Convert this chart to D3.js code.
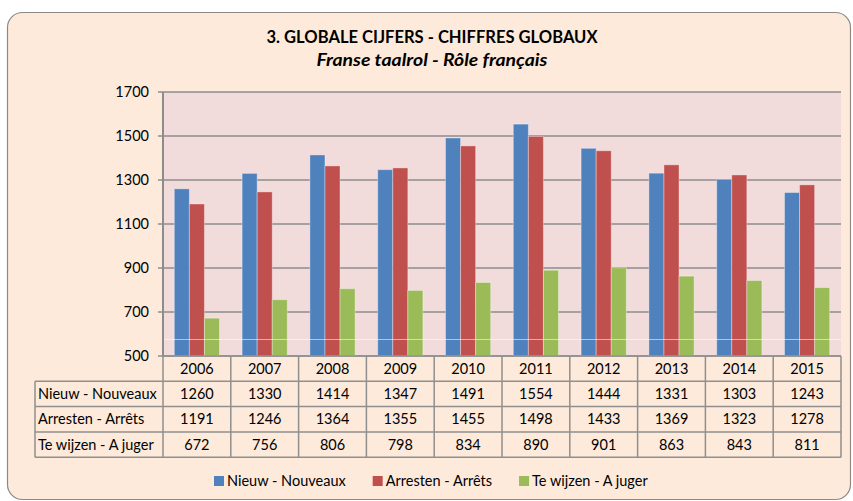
<!DOCTYPE html>
<html lang="nl">
<head>
  <meta charset="UTF-8">
  <title>Globale cijfers</title>
<script src="https://d3js.org/d3.v7.min.js"></script>
<style>
  body { margin: 0; background: #fff; }
  text { font-family: Lato, "Open Sans", sans-serif; fill: #000; }
</style>
</head>
<body>
<div id="chart"></div>
<script>

const years = ['2006', '2007', '2008', '2009', '2010', '2011', '2012', '2013', '2014', '2015'];
const seriesNames = ['Nieuw - Nouveaux', 'Arresten - Arrêts', 'Te wijzen - A juger'];
const nieuw = [1260, 1330, 1414, 1347, 1491, 1554, 1444, 1331, 1303, 1243];
const arresten = [1191, 1246, 1364, 1355, 1455, 1498, 1433, 1369, 1323, 1278];
const teWijzen = [672, 756, 806, 798, 834, 890, 901, 863, 843, 811];
const yTicks = [500, 700, 900, 1100, 1300, 1500, 1700];
const colors = ['#4F81BD', '#C0504D', '#9BBB59'];

const seriesValues = [nieuw, arresten, teWijzen];

const width = 853, height = 501;
const plot = { left: 163, right: 841, top: 92, bottom: 356 };
const rowH = 25.3;
const fs = 14.5;

const svg = d3.select('#chart').append('svg')
  .attr('width', width)
  .attr('height', height);

// chart background
svg.append('rect')
  .attr('x', 7.5).attr('y', 12.5)
  .attr('width', 843).attr('height', 487)
  .attr('rx', 15)
  .attr('fill', '#FDEADA')
  .attr('stroke', '#8a8a8a')
  .attr('stroke-width', 1.2);

// titles
svg.append('text')
  .attr('x', 432).attr('y', 43)
  .attr('text-anchor', 'middle')
  .attr('font-weight', 'bold')
  .attr('font-size', 16.5)
  .attr('textLength', 331)
  .attr('lengthAdjust', 'spacingAndGlyphs')
  .text('3. GLOBALE CIJFERS - CHIFFRES GLOBAUX');

svg.append('text')
  .attr('x', 432).attr('y', 66)
  .attr('text-anchor', 'middle')
  .attr('font-weight', 'bold')
  .attr('font-style', 'italic')
  .attr('font-size', 16.5)
  .attr('textLength', 231)
  .attr('lengthAdjust', 'spacingAndGlyphs')
  .text('Franse taalrol - Rôle français');

const x0 = d3.scaleBand().domain(years).range([plot.left, plot.right]);
const x1 = d3.scaleBand().domain(d3.range(3))
  .range([0, x0.bandwidth()])
  .paddingInner(0).paddingOuter(0.75);
const y = d3.scaleLinear().domain([500, 1700]).range([plot.bottom, plot.top]);

// plot area
svg.append('rect')
  .attr('x', plot.left).attr('y', plot.top)
  .attr('width', plot.right - plot.left)
  .attr('height', plot.bottom - plot.top)
  .attr('fill', '#F2DCDB');

// gridlines
svg.append('g')
  .selectAll('line')
  .data(yTicks)
  .enter().append('line')
  .attr('x1', plot.left - 5).attr('x2', plot.right)
  .attr('y1', d => y(d)).attr('y2', d => y(d))
  .attr('stroke', '#8c8c8c')
  .attr('stroke-width', 1.5);

svg.append('g')
  .selectAll('text')
  .data(yTicks)
  .enter().append('text')
  .attr('x', 149).attr('y', d => y(d) + 5)
  .attr('text-anchor', 'end')
  .attr('font-size', fs)
  .text(d => d);

// bars
const groups = svg.append('g')
  .selectAll('g')
  .data(years)
  .enter().append('g')
  .attr('transform', d => `translate(${x0(d)},0)`);

groups.selectAll('rect')
  .data((d, i) => seriesValues.map((s, k) => ({ k: k, v: s[i] })))
  .enter().append('rect')
  .attr('x', d => x1(d.k))
  .attr('y', d => y(d.v))
  .attr('width', x1.bandwidth())
  .attr('height', d => y(500) - y(d.v))
  .attr('fill', d => colors[d.k])
  .attr('stroke', 'rgba(255,255,255,0.35)')
  .attr('stroke-width', 1);

// faint scan line across the plot
svg.append('line')
  .attr('x1', plot.left).attr('x2', plot.right)
  .attr('y1', 339.5).attr('y2', 339.5)
  .attr('stroke', 'rgba(255,255,255,0.55)')
  .attr('stroke-width', 1);

// y axis line
svg.append('line')
  .attr('x1', plot.left).attr('x2', plot.left)
  .attr('y1', plot.top).attr('y2', plot.bottom)
  .attr('stroke', '#8c8c8c')
  .attr('stroke-width', 2);

// data table
const table = svg.append('g');
const labelLeft = 35;
const rowsY = d3.range(5).map(i => plot.bottom + i * rowH);
const lineColor = '#8f8f8f';

// horizontal lines
table.append('line')
  .attr('x1', plot.left).attr('x2', plot.right)
  .attr('y1', plot.bottom).attr('y2', plot.bottom)
  .attr('stroke', lineColor).attr('stroke-width', 1.5);
rowsY.slice(1).forEach(yy => {
  table.append('line')
    .attr('x1', labelLeft).attr('x2', plot.right)
    .attr('y1', yy).attr('y2', yy)
    .attr('stroke', lineColor).attr('stroke-width', 1.5);
});

// vertical lines
years.forEach(yr => {
  table.append('line')
    .attr('x1', x0(yr)).attr('x2', x0(yr))
    .attr('y1', plot.bottom).attr('y2', rowsY[4])
    .attr('stroke', lineColor).attr('stroke-width', 1.5);
});
table.append('line')
  .attr('x1', plot.right).attr('x2', plot.right)
  .attr('y1', plot.bottom).attr('y2', rowsY[4])
  .attr('stroke', lineColor).attr('stroke-width', 1.5);
table.append('line')
  .attr('x1', labelLeft).attr('x2', labelLeft)
  .attr('y1', rowsY[1]).attr('y2', rowsY[4])
  .attr('stroke', lineColor).attr('stroke-width', 1.5);

// year labels
table.selectAll('.yr')
  .data(years)
  .enter().append('text')
  .attr('class', 'yr')
  .attr('x', d => x0(d) + x0.bandwidth() / 2)
  .attr('y', rowsY[0] + rowH / 2 + 5)
  .attr('text-anchor', 'middle')
  .attr('font-size', fs)
  .text(d => d);

seriesValues.forEach((vals, k) => {
  const cy = rowsY[k + 1] + rowH / 2 + 5;
  table.append('text')
    .attr('x', labelLeft + 3).attr('y', cy)
    .attr('font-size', fs)
    .text(seriesNames[k]);
  table.selectAll('.v' + k)
    .data(vals)
    .enter().append('text')
    .attr('class', 'v' + k)
    .attr('x', (d, i) => x0(years[i]) + x0.bandwidth() / 2)
    .attr('y', cy)
    .attr('text-anchor', 'middle')
    .attr('font-size', fs)
    .text(d => d);
});

// legend
const legend = svg.append('g');
let lx = 214;
seriesNames.forEach((name, k) => {
  legend.append('rect')
    .attr('x', lx).attr('y', 476)
    .attr('width', 10).attr('height', 10)
    .attr('fill', colors[k]);
  const t = legend.append('text')
    .attr('x', lx + 13).attr('y', 486)
    .attr('font-size', fs)
    .text(name);
  lx += 13 + t.node().getComputedTextLength() + 27;
});

</script>
</body>
</html>
